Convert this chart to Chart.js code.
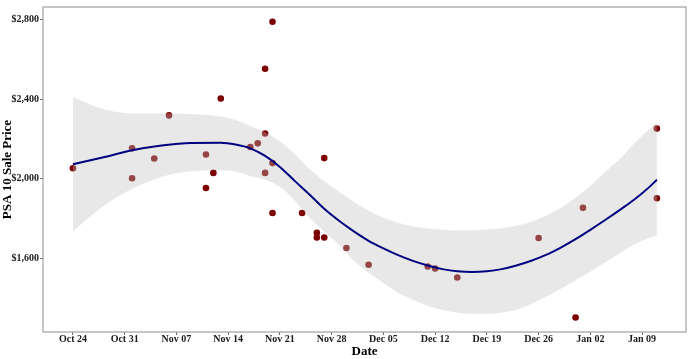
<!DOCTYPE html>
<html>
<head>
<meta charset="utf-8">
<script src="https://cdn.jsdelivr.net/npm/chart.js@4"></script>
<style>
  html, body { margin: 0; padding: 0; background: #ffffff; }
  #wrap { width: 690px; height: 359px; }
</style>
</head>
<body>
<div id="wrap"><canvas id="c" width="690" height="359"></canvas></div>
<script>
// Days since Oct 24 for each sale, and the PSA 10 sale price
const saleDays   = [0, 8, 8, 11, 13, 18, 18, 19, 20, 24, 25, 26, 26, 26, 27, 27, 27, 31, 33, 33, 34, 34, 37, 40, 48, 49, 52, 63, 68, 69, 79, 79];
const salePrices = [2053, 2153, 2003, 2102, 2318, 2122, 1954, 2030, 2403, 2160, 2178, 2552, 2227, 2030, 2787, 2079, 1829, 1829, 1730, 1706, 1706, 2104, 1654, 1570, 1561, 1551, 1506, 1704, 1306, 1855, 2252, 1903];

// Smoothed trend (loess) and its confidence band
const smoothDays  = [0, 4, 8, 12, 16, 20, 22, 24, 26, 28, 30, 32, 34, 36, 38, 40, 42, 44, 46, 48, 50, 52, 54, 56, 58, 60, 62, 64, 66, 68, 70, 72, 74, 76, 78, 79];
const smoothFit   = [2073, 2107, 2143, 2167, 2180, 2181, 2172, 2153, 2115, 2060, 1990, 1922, 1850, 1790, 1737, 1690, 1652, 1618, 1589, 1566, 1548, 1537, 1533, 1537, 1548, 1566, 1590, 1619, 1656, 1698, 1745, 1794, 1845, 1898, 1960, 1996];
const smoothUpper = [2410, 2350, 2328, 2327, 2324, 2312, 2295, 2265, 2232, 2188, 2125, 2050, 1990, 1935, 1885, 1840, 1805, 1780, 1762, 1752, 1745, 1741, 1742, 1746, 1753, 1765, 1785, 1815, 1855, 1905, 1965, 2035, 2100, 2180, 2250, 2283];
const smoothLower = [1737, 1860, 1950, 2010, 2038, 2043, 2037, 2015, 1995, 1960, 1890, 1805, 1737, 1670, 1590, 1530, 1478, 1430, 1395, 1365, 1343, 1330, 1325, 1325, 1330, 1345, 1375, 1410, 1450, 1492, 1535, 1582, 1628, 1672, 1705, 1716];

// Axis ticks
const xTickDays   = [0, 7, 14, 21, 28, 35, 42, 49, 56, 63, 70, 77];
const xTickLabels = ["Oct 24", "Oct 31", "Nov 07", "Nov 14", "Nov 21", "Nov 28", "Dec 05", "Dec 12", "Dec 19", "Dec 26", "Jan 02", "Jan 09"];
const yTickValues = [1600, 2000, 2400, 2800];

const toXY = (xs, ys) => xs.map((x, i) => ({ x: x, y: ys[i] }));

const panelBorder = {
  id: 'panelBorder',
  afterDraw(chart) {
    const { ctx, chartArea: a } = chart;
    ctx.save();
    ctx.strokeStyle = '#a8a8a8';
    ctx.lineWidth = 1.3;
    ctx.strokeRect(a.left, a.top, a.right - a.left, a.bottom - a.top);
    ctx.restore();
  }
};

const serif = "'Liberation Serif', 'Times New Roman', serif";

new Chart(document.getElementById('c'), {
  type: 'scatter',
  data: {
    datasets: [
      {
        label: 'Sales',
        data: toXY(saleDays, salePrices),
        backgroundColor: '#7d0000',
        borderColor: '#7d0000',
        borderWidth: 0,
        pointRadius: 3.3,
        order: 3
      },
      {
        label: 'Lower',
        type: 'line',
        data: toXY(smoothDays, smoothLower),
        borderWidth: 0,
        borderColor: 'rgba(0,0,0,0)',
        pointRadius: 0,
        fill: false,
        cubicInterpolationMode: 'monotone',
        order: 2
      },
      {
        label: 'Upper',
        type: 'line',
        data: toXY(smoothDays, smoothUpper),
        borderWidth: 0,
        borderColor: 'rgba(0,0,0,0)',
        backgroundColor: 'rgba(190,190,190,0.36)',
        pointRadius: 0,
        fill: 1,
        cubicInterpolationMode: 'monotone',
        order: 2
      },
      {
        label: 'Trend',
        type: 'line',
        data: toXY(smoothDays, smoothFit),
        borderColor: '#000080',
        borderWidth: 2,
        pointRadius: 0,
        fill: false,
        cubicInterpolationMode: 'monotone',
        order: 1
      }
    ]
  },
  options: {
    responsive: false,
    animation: false,
    events: [],
    layout: { padding: { top: 3, right: 3, left: 0, bottom: 0 } },
    plugins: {
      legend: { display: false },
      tooltip: { enabled: false },
      filler: { propagate: false }
    },
    scales: {
      x: {
        type: 'linear',
        min: -4.05,
        max: 82.94,
        afterBuildTicks(scale) { scale.ticks = xTickDays.map(v => ({ value: v })); },
        afterFit(scale) { scale.height = 27; },
        border: { display: false },
        grid: { display: true, drawOnChartArea: false, drawTicks: true, tickLength: 3, color: '#666', lineWidth: 1 },
        ticks: {
          padding: -2,
          maxRotation: 0,
          autoSkip: false,
          color: '#1a1a1a',
          font: { family: serif, size: 10, weight: 'bold' },
          callback(value) { const i = xTickDays.indexOf(value); return i >= 0 ? xTickLabels[i] : ''; }
        },
        title: {
          display: true,
          text: 'Date',
          color: '#000',
          font: { family: serif, size: 13, weight: 'bold', lineHeight: 1.2 },
          padding: { top: 0, bottom: 0 }
        }
      },
      y: {
        type: 'linear',
        min: 1233,
        max: 2861,
        afterBuildTicks(scale) { scale.ticks = yTickValues.map(v => ({ value: v })); },
        afterFit(scale) { scale.width = 43; },
        border: { display: false },
        grid: { display: true, drawOnChartArea: false, drawTicks: true, tickLength: 3, color: '#666', lineWidth: 1 },
        ticks: {
          padding: 1,
          color: '#1a1a1a',
          font: { family: serif, size: 10, weight: 'bold' },
          callback(value) { return '$' + value.toLocaleString('en-US'); }
        },
        title: {
          display: true,
          text: 'PSA 10 Sale Price',
          color: '#000',
          font: { family: serif, size: 13, weight: 'bold', lineHeight: 1 },
          padding: { top: 1, bottom: 0 }
        }
      }
    }
  },
  plugins: [panelBorder]
});
</script>
</body>
</html>
